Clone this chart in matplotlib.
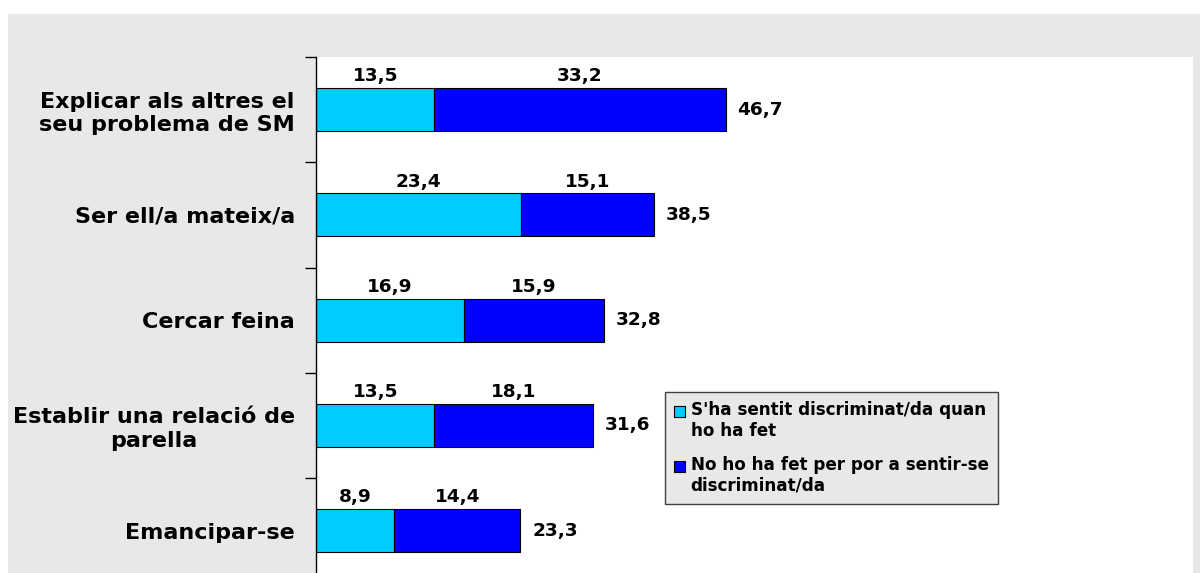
import matplotlib
matplotlib.use("Agg")
import matplotlib.pyplot as plt
from matplotlib.patches import Rectangle
from matplotlib.ticker import FixedLocator
from matplotlib.container import BarContainer
from matplotlib.legend_handler import HandlerPatch, update_from_first_child

categories = ["Explicar als altres el\nseu problema de SM", "Ser ell/a mateix/a",
              "Cercar feina", "Establir una relació de\nparella", "Emancipar-se"]
discriminat = [13.5, 23.4, 16.9, 13.5, 8.9]
por = [33.2, 15.1, 15.9, 18.1, 14.4]
totals = [46.7, 38.5, 32.8, 31.6, 23.3]
series_names = ["S'ha sentit discriminat/da quan\nho ha fet",
                "No ho ha fet per por a sentir-se\ndiscriminat/da"]
colors = ["#00CCFF", "#0000FF"]

def fmt(v):
    return f"{v:.1f}".replace(".", ",")

W, H = 1200, 573
fig = plt.figure(figsize=(W / 100, H / 100), dpi=100, facecolor="white")
fig.patches.append(Rectangle((8 / W, 0), 1 - 8 / W, 1 - 14 / H, transform=fig.transFigure,
                             facecolor="#E8E8E8", edgecolor="none", zorder=-10))

top = 57
bottom = 583.25
ax = fig.add_axes([316 / W, 1 - bottom / H, (1193 - 316) / W, (bottom - top) / H])
ax.set_facecolor("white")
ax.set_zorder(1)

n = len(categories)
y = list(range(n))
h = 0.41
ax.barh(y, discriminat, height=h, color=colors[0], edgecolor="black", linewidth=0.8,
        label=series_names[0])
ax.barh(y, por, left=discriminat, height=h, color=colors[1], edgecolor="black", linewidth=0.8,
        label=series_names[1])

ax.set_xlim(0, 100)
ax.set_ylim(n - 0.5, -0.5)

fs = 13.3
for i in range(n):
    a, b, t = discriminat[i], por[i], totals[i]
    ax.text(a / 2, i - h / 2 - 0.025, fmt(a), ha="center", va="bottom",
            fontsize=fs, fontweight="bold")
    ax.text(a + b / 2, i - h / 2 - 0.025, fmt(b), ha="center", va="bottom",
            fontsize=fs, fontweight="bold")
    ax.text(a + b + 1.35, i, fmt(t), ha="left", va="center",
            fontsize=fs, fontweight="bold")

ax.set_yticks(y)
ax.set_yticklabels(categories, fontsize=16, fontweight="bold", linespacing=1.2)
for lbl in ax.get_yticklabels():
    lbl.set_multialignment("center")
ax.tick_params(axis="y", which="major", length=0, pad=15)
ax.yaxis.set_minor_locator(FixedLocator([i - 0.5 for i in range(n + 1)]))
ax.tick_params(axis="y", which="minor", length=8, width=1, direction="out")
ax.set_xticks([])
for s in ["top", "right", "bottom"]:
    ax.spines[s].set_visible(False)
ax.spines["left"].set_linewidth(1)


def top_square(legend, orig_handle, xdescent, ydescent, width, height, fontsize):
    shift = 7.5
    return Rectangle((-xdescent, -ydescent + shift), width, height)


leg = ax.legend(loc="upper left", bbox_to_anchor=((665 - 316) / (1193 - 316), (bottom - 392) / (bottom - top)),
                frameon=True, fancybox=False, facecolor="#E8E8E8", edgecolor="#404040",
                prop={"size": 12.1, "weight": "bold"}, handlelength=0.62, handleheight=0.62,
                handletextpad=0.35, borderpad=0.55, labelspacing=0.95, borderaxespad=0,
                handler_map={BarContainer: HandlerPatch(patch_func=top_square,
                                                        update_func=update_from_first_child)})
leg.get_frame().set_linewidth(1)
leg.get_frame().set_alpha(1)

fig.savefig("out.png", dpi=100, facecolor=fig.get_facecolor())
